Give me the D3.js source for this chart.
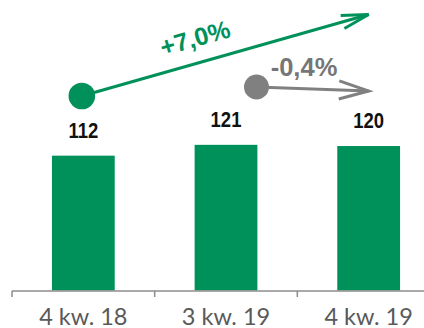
<!DOCTYPE html>
<html><head><meta charset="utf-8">
<script src="https://cdn.jsdelivr.net/npm/d3@7"></script>
<style>html,body{margin:0;padding:0;background:#fff;}svg{display:block;}</style>
</head><body>
<svg id="c" width="424" height="328"></svg>
<script>
const categories = ["4 kw. 18", "3 kw. 19", "4 kw. 19"];
const values = [112, 121, 120];
const changeLabels = ["+7,0%", "-0,4%"];

const green = "#00915a", gray = "#808080";
const svg = d3.select("#c");
const x = d3.scaleBand().domain(categories).range([12, 440]).padding(0);
const y = d3.scaleLinear().domain([0, 130]).range([290.5, 134]);
const bw = x.bandwidth();
const cx = c => x(c) + bw / 2;

// bars
svg.selectAll("rect.bar").data(values).enter().append("rect")
  .attr("x", (d, i) => x(categories[i]) + bw * 0.28)
  .attr("width", bw * 0.44)
  .attr("y", d => y(d))
  .attr("height", d => y(0) - y(d))
  .attr("fill", green);

// value labels (condensed bold)
svg.selectAll("text.val").data(values).enter().append("text")
  .attr("transform", (d, i) => `translate(${cx(categories[i])},${y(d) - 18}) scale(0.84,1)`)
  .attr("text-anchor", "middle")
  .attr("font-family", "'Liberation Sans',Arial,sans-serif")
  .attr("font-weight", "bold").attr("font-size", 22).attr("fill", "#111")
  .text(d => d);

// axis
const axisY = y(0) + 0.5;
svg.append("line").attr("x1", 12).attr("x2", 424).attr("y1", axisY).attr("y2", axisY)
  .attr("stroke", "#8c8c8c").attr("stroke-width", 1.5);
categories.forEach(c => {
  svg.append("line").attr("x1", x(c)).attr("x2", x(c)).attr("y1", axisY).attr("y2", axisY + 6)
    .attr("stroke", "#8c8c8c").attr("stroke-width", 1.5);
});
svg.selectAll("text.cat").data(categories).enter().append("text")
  .attr("x", d => cx(d)).attr("y", 324.5)
  .attr("text-anchor", "middle").attr("font-family", "Lato, 'Open Sans', sans-serif")
  .attr("font-size", 23.5).attr("fill", "#595959").text(d => d);

// arrow helper
function arrow(x0, y0, x1, y1, color, r, arm, ang) {
  svg.append("line").attr("x1", x0).attr("y1", y0).attr("x2", x1).attr("y2", y1)
    .attr("stroke", color).attr("stroke-width", 3);
  const a = Math.atan2(y0 - y1, x0 - x1);
  const pts = [a + ang, a - ang].map(t => [x1 + arm * Math.cos(t), y1 + arm * Math.sin(t)]);
  svg.append("path").attr("d", `M${pts[0][0]},${pts[0][1]}L${x1},${y1}L${pts[1][0]},${pts[1][1]}`)
    .attr("fill", "none").attr("stroke", color).attr("stroke-width", 3)
    .attr("stroke-linejoin", "miter");
  svg.append("circle").attr("cx", x0).attr("cy", y0).attr("r", r).attr("fill", color);
}

const gx0 = cx(categories[0]) - 1.5, gy0 = 96;
const tipX = cx(categories[2]);
arrow(gx0, gy0, tipX, 14.5, green, 13.3, 28, 14 * Math.PI / 180);
const gAng = Math.atan2(14.5 - gy0, tipX - gx0) * 180 / Math.PI;
svg.append("text").attr("transform", `translate(195,38) rotate(${gAng})`)
  .attr("text-anchor", "middle").attr("dy", "0.35em")
  .attr("font-family", "'Liberation Sans',Arial,sans-serif").attr("font-weight", "bold")
  .attr("font-size", 25).attr("fill", green).text(changeLabels[0]);

arrow(cx(categories[1]) + 30.5, 87, tipX, 91, gray, 12.5, 31, 17 * Math.PI / 180);
svg.append("text").attr("x", 304).attr("y", 76)
  .attr("text-anchor", "middle")
  .attr("font-family", "'Liberation Sans',Arial,sans-serif").attr("font-weight", "bold")
  .attr("font-size", 25.5).attr("fill", "#767676").text(changeLabels[1]);
</script>
</body></html>
